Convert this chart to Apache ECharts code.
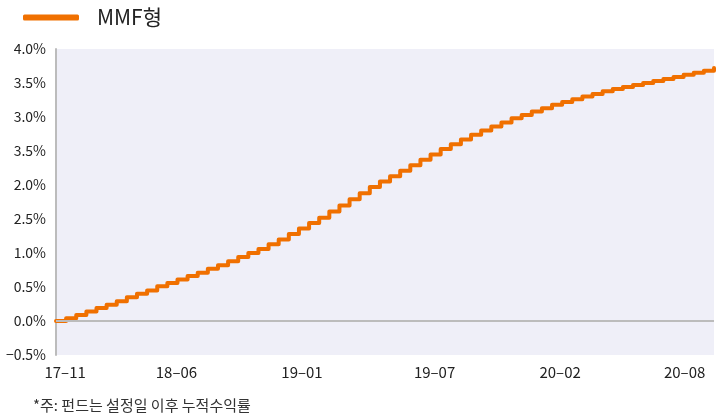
<!DOCTYPE html>
<html>
<head>
<meta charset="utf-8">
<script src="https://cdn.jsdelivr.net/npm/echarts@6/dist/echarts.min.js"></script>
<style>
  html, body { margin: 0; padding: 0; background: #ffffff; }
  #chart { width: 723px; height: 416px; }
</style>
</head>
<body>
<div id="chart"></div>
<script>
// Cumulative return of the MMF fund since inception (%), sampled along the period
const seriesName = 'MMF형';
const returns = [
  0.00, 0.04, 0.09, 0.14, 0.19, 0.24, 0.29, 0.35, 0.40, 0.45,
  0.51, 0.56, 0.61, 0.66, 0.71, 0.77, 0.82, 0.88, 0.94, 1.00,
  1.06, 1.13, 1.20, 1.28, 1.36, 1.44, 1.52, 1.61, 1.70, 1.79,
  1.88, 1.97, 2.05, 2.13, 2.21, 2.29, 2.37, 2.45, 2.53, 2.60,
  2.67, 2.74, 2.80, 2.86, 2.92, 2.98, 3.03, 3.08, 3.13, 3.18,
  3.22, 3.26, 3.30, 3.34, 3.38, 3.41, 3.44, 3.47, 3.50, 3.53,
  3.56, 3.59, 3.62, 3.65, 3.68, 3.72
];

// Month labels on the time axis and the sample positions where they sit
const xTickLabels = ['17–11', '18–06', '19–01', '19–07', '20–02', '20–08'];
const xTickAt = [0.9, 11.9, 24.3, 37.4, 49.8, 62.1];

// Value-axis labels, bottom to top
const yTickLabels = ['−0.5%', '0.0%', '0.5%', '1.0%', '2.5%', '2.0%', '3.5%', '3.0%', '3.5%', '4.0%'];

const footnote = '*주: 펀드는 설정일 이후 누적수익률';

const FONT = '"Noto Sans CJK KR", "Noto Sans", sans-serif';

const chart = echarts.init(document.getElementById('chart'), null, { renderer: 'canvas' });

chart.setOption({
  animation: false,
  backgroundColor: '#ffffff',
  textStyle: { fontFamily: FONT },
  legend: {
    data: [seriesName],
    left: 18,
    top: 2,
    icon: 'roundRect',
    itemWidth: 56,
    itemHeight: 6,
    itemGap: 10,
    textStyle: { fontSize: 21, color: '#222222', fontFamily: FONT, padding: [0, 0, 0, 13] }
  },
  grid: {
    left: 56,
    right: 9,
    top: 49,
    bottom: 61,
    show: true,
    backgroundColor: '#efeff8',
    borderWidth: 0
  },
  xAxis: {
    type: 'value',
    min: 0,
    max: returns.length - 1,
    axisLine: { show: false },
    axisTick: { show: false },
    splitLine: { show: false },
    axisLabel: {
      customValues: xTickAt,
      margin: 10,
      fontSize: 15,
      color: '#222222',
      fontFamily: FONT,
      formatter: function (v) {
        const k = xTickAt.indexOf(v);
        return k >= 0 ? xTickLabels[k] : '';
      }
    }
  },
  yAxis: {
    type: 'value',
    min: -0.5,
    max: 4.0,
    interval: 0.5,
    axisLine: { show: true, lineStyle: { color: '#bcbcbc', width: 2 } },
    axisTick: { show: false },
    splitLine: { show: false },
    axisLabel: {
      margin: 10,
      fontSize: 14,
      color: '#222222',
      fontFamily: FONT,
      formatter: function (v) {
        return yTickLabels[Math.round((v + 0.5) / 0.5)];
      }
    }
  },
  series: [{
    name: seriesName,
    type: 'line',
    step: 'end',
    data: returns.map(function (v, i) { return [i, v]; }),
    showSymbol: false,
    lineStyle: { color: '#f07000', width: 4, cap: 'round', join: 'round' },
    itemStyle: { color: '#f07000' },
    markLine: {
      silent: true,
      symbol: 'none',
      label: { show: false },
      lineStyle: { color: '#bcbcbc', width: 2, type: 'solid' },
      data: [{ yAxis: 0 }]
    },
    z: 3
  }],
  graphic: [{
    type: 'text',
    left: 33,
    top: 398,
    style: {
      text: footnote,
      fontSize: 15,
      fill: '#333333',
      fontFamily: FONT
    }
  }]
});
</script>
</body>
</html>
